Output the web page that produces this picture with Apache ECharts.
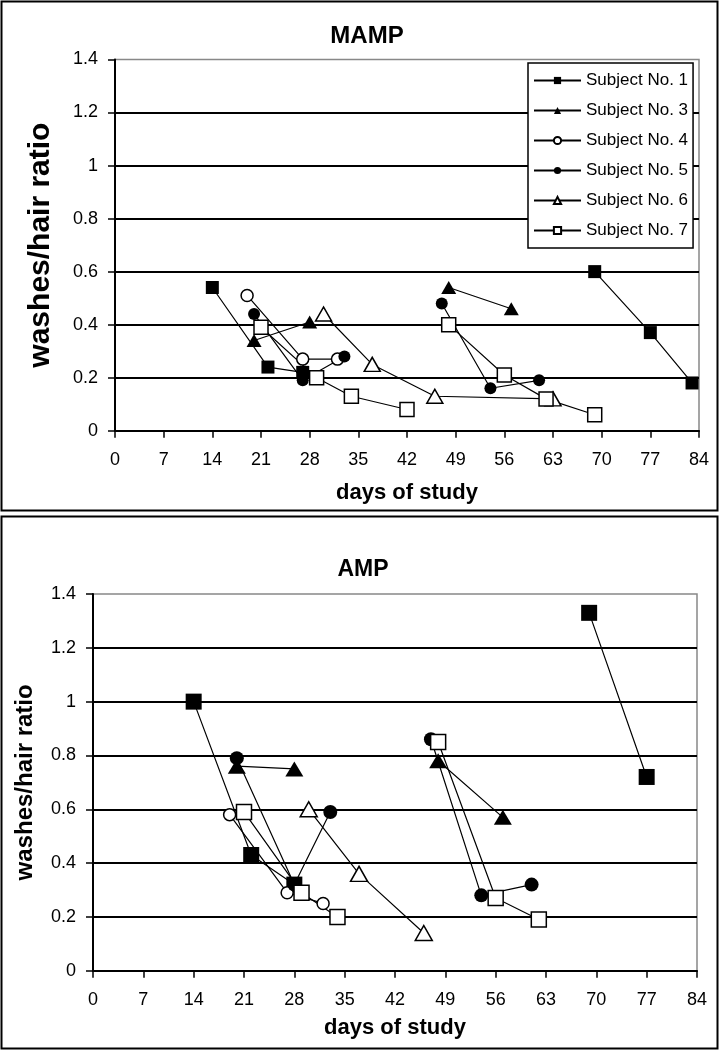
<!DOCTYPE html>
<html>
<head>
<meta charset="utf-8">
<script src="https://cdn.jsdelivr.net/npm/echarts@6/dist/echarts.min.js"></script>
<style>
  html, body { margin: 0; padding: 0; background: #fff; }
  #chart { width: 719px; height: 1050px; }
</style>
</head>
<body>
<div id="chart"></div>
<script>
// axis ticks
const dayTicks = [0, 7, 14, 21, 28, 35, 42, 49, 56, 63, 70, 77, 84];
const ratioTicks = [0, 0.2, 0.4, 0.6, 0.8, 1, 1.2, 1.4];
const subjects = ['Subject No. 1', 'Subject No. 3', 'Subject No. 4', 'Subject No. 5', 'Subject No. 6', 'Subject No. 7'];

// MAMP panel (null = gap between study periods)
const mampS1Days = [14, 22, 27, null, 69, 77, 83];
const mampS1Vals = [0.54, 0.24, 0.22, null, 0.60, 0.37, 0.18];
const mampS3Days = [20, 28, null, 48, 57];
const mampS3Vals = [0.34, 0.41, null, 0.54, 0.46];
const mampS4Days = [19, 27, 32];
const mampS4Vals = [0.51, 0.27, 0.27];
const mampS5Days = [20, 27, 33, null, 47, 54, 61];
const mampS5Vals = [0.44, 0.19, 0.28, null, 0.48, 0.16, 0.19];
const mampS6Days = [30, 37, 46, 63];
const mampS6Vals = [0.44, 0.25, 0.13, 0.12];
const mampS7Days = [21, 29, 34, 42, null, 48, 56, 62, 69];
const mampS7Vals = [0.39, 0.20, 0.13, 0.08, null, 0.40, 0.21, 0.12, 0.06];

// AMP panel
const ampS1Days = [14, 22, 28, null, 69, 77];
const ampS1Vals = [1.0, 0.43, 0.32, null, 1.33, 0.72];
const ampS3Days = [20, 28, null, 48, 57];
const ampS3Vals = [0.76, 0.75, null, 0.78, 0.57];
const ampS4Days = [19, 27, 32];
const ampS4Vals = [0.58, 0.29, 0.25];
const ampS5Days = [20, 28, 33, null, 47, 54, 61];
const ampS5Vals = [0.79, 0.32, 0.59, null, 0.86, 0.28, 0.32];
const ampS6Days = [30, 37, 46];
const ampS6Vals = [0.60, 0.36, 0.14];
const ampS7Days = [21, 29, 34, null, 48, 56, 62];
const ampS7Vals = [0.59, 0.29, 0.20, null, 0.85, 0.27, 0.19];

const FONT = "'Liberation Sans', Arial, sans-serif";

const panels = [
  [[mampS1Days, mampS1Vals], [mampS3Days, mampS3Vals], [mampS4Days, mampS4Vals],
   [mampS5Days, mampS5Vals], [mampS6Days, mampS6Vals], [mampS7Days, mampS7Vals]],
  [[ampS1Days, ampS1Vals], [ampS3Days, ampS3Vals], [ampS4Days, ampS4Vals],
   [ampS5Days, ampS5Vals], [ampS6Days, ampS6Vals], [ampS7Days, ampS7Vals]],
];

// marker look per subject: symbol, filled?, size in top / bottom panel
const markers = [
  { symbol: 'rect', filled: true, size: [13, 16] },
  { symbol: 'triangle', filled: true, size: [[15, 13], [18, 15]] },
  { symbol: 'circle', filled: false, size: [12, 12] },
  { symbol: 'circle', filled: true, size: [12, 14] },
  { symbol: 'triangle', filled: false, size: [[16, 14], [17, 15]] },
  { symbol: 'rect', filled: false, size: [14, 15] },
];

function pairs(days, vals) {
  return days.map((d, i) => [d, vals[i]]);
}

const series = [];
panels.forEach((panel, p) => {
  panel.forEach(([days, vals], i) => {
    const m = markers[i];
    series.push({
      name: subjects[i],
      type: 'line',
      xAxisIndex: p,
      yAxisIndex: p,
      data: pairs(days, vals),
      connectNulls: false,
      symbol: m.symbol,
      symbolSize: m.size[p],
      showAllSymbol: true,
      lineStyle: { color: '#000', width: 1.2 },
      itemStyle: {
        color: m.filled ? '#000' : '#fff',
        borderColor: '#000',
        borderWidth: m.filled ? 0 : 1.5,
        opacity: 1,
      },
      emphasis: { disabled: true },
      animation: false,
    });
  });
});

function xAxis(gridIndex, gap) {
  return {
    type: 'value',
    gridIndex,
    min: dayTicks[0],
    max: dayTicks[dayTicks.length - 1],
    interval: dayTicks[1] - dayTicks[0],
    name: 'days of study',
    nameLocation: 'middle',
    nameGap: gap,
    nameTextStyle: { fontFamily: FONT, fontSize: 22, fontWeight: 'bold', color: '#000' },
    axisLine: { show: true, lineStyle: { color: '#000', width: 2 } },
    axisTick: { show: true, length: 7, lineStyle: { color: '#000', width: 1.5 } },
    axisLabel: { fontFamily: FONT, fontSize: 18, color: '#000', margin: 20 },
    splitLine: { show: false },
  };
}

function yAxis(gridIndex, nameSize, gap) {
  return {
    type: 'value',
    gridIndex,
    min: ratioTicks[0],
    max: ratioTicks[ratioTicks.length - 1],
    interval: ratioTicks[1] - ratioTicks[0],
    name: 'washes/hair ratio',
    nameLocation: 'middle',
    nameRotate: 90,
    nameGap: gap,
    nameTextStyle: { fontFamily: FONT, fontSize: nameSize, fontWeight: 'bold', color: '#000' },
    axisLine: { show: true, lineStyle: { color: '#000', width: 2 } },
    axisTick: { show: true, length: 7, lineStyle: { color: '#000', width: 1.5 } },
    axisLabel: { fontFamily: FONT, fontSize: 18, color: '#000', margin: 17 },
    splitLine: { show: true, showMaxLine: false, lineStyle: { color: '#000', width: 2 } },
  };
}

const chart = echarts.init(document.getElementById('chart'), null, { renderer: 'canvas' });
chart.setOption({
  backgroundColor: '#fff',
  animation: false,
  title: [
    { text: 'MAMP', left: 362, top: 19, textAlign: 'center',
      textStyle: { fontFamily: FONT, fontSize: 24, fontWeight: 'bold', color: '#000' } },
    { text: 'AMP', left: 358, top: 553, textAlign: 'center',
      textStyle: { fontFamily: FONT, fontSize: 23, fontWeight: 'bold', color: '#000' } },
  ],
  legend: {
    data: subjects,
    orient: 'vertical',
    left: 528,
    top: 63,
    padding: [9, 5, 9, 5],
    itemGap: 13,
    itemWidth: 47,
    itemHeight: 9,
    backgroundColor: '#fff',
    borderColor: '#000',
    borderWidth: 1.5,
    lineStyle: { width: 2 },
    selectedMode: false,
    textStyle: { fontFamily: FONT, fontSize: 17, color: '#000', padding: [0, 0, 0, 0] },
  },
  grid: [
    { left: 115, right: 20, top: 59.5, bottom: 619.3, show: true, borderColor: '#888', borderWidth: 1.5,
      containLabel: false, outerBoundsMode: 'none' },
    { left: 93, right: 22, top: 594, bottom: 79.3, show: true, borderColor: '#888', borderWidth: 1.5,
      containLabel: false, outerBoundsMode: 'none' },
  ],
  xAxis: [xAxis(0, 51), xAxis(1, 46)],
  yAxis: [yAxis(0, 30, 59), yAxis(1, 24, 56)],
  graphic: [
    { type: 'rect', shape: { x: 1.5, y: 1.5, width: 716, height: 509 },
      style: { fill: 'none', stroke: '#000', lineWidth: 2 }, silent: true },
    { type: 'rect', shape: { x: 1.5, y: 516.5, width: 716, height: 532 },
      style: { fill: 'none', stroke: '#000', lineWidth: 2 }, silent: true },
  ],
  series,
});
</script>
</body>
</html>
